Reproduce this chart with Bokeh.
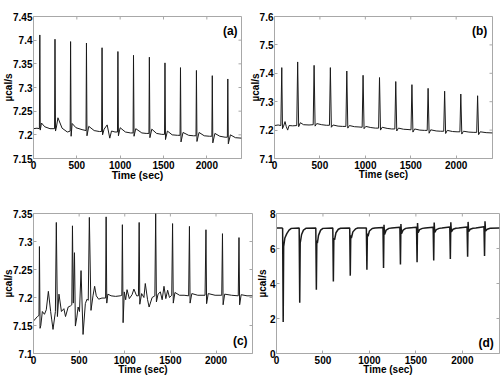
import math
from bokeh.plotting import figure
from bokeh.models import Range1d, FixedTicker, Label
from bokeh.layouts import row, column
from bokeh.embed import file_html
from bokeh.resources import INLINE

# ---------------- data ----------------
x_ticks = [0, 500, 1000, 1500, 2000]
x_tick_labels = ["0", "500", "1000", "1500", "2000"]
x_max = 2400

a_yticks = [7.15, 7.2, 7.25, 7.3, 7.35, 7.4, 7.45]
a_ylabels = ["7.15", "7.2", "7.25", "7.3", "7.35", "7.4", "7.45"]
b_yticks = [7.1, 7.2, 7.3, 7.4, 7.5, 7.6]
b_ylabels = ["7.1", "7.2", "7.3", "7.4", "7.5", "7.6"]
c_yticks = [7.1, 7.15, 7.2, 7.25, 7.3, 7.35]
c_ylabels = ["7.1", "7.15", "7.2", "7.25", "7.3", "7.35"]
d_yticks = [0, 2, 4, 6, 8]
d_ylabels = ["0", "2", "4", "6", "8"]

a_time = [0, 40, 68, 73, 78, 92,
          130, 190, 243, 248, 254, 262,
          282, 330, 390, 410, 423, 428,
          434, 446, 490, 560, 606, 611,
          617, 638, 700, 760, 786, 791,
          797, 815, 850, 880, 900, 940,
          969, 974, 980, 1000, 1060, 1120,
          1149, 1154, 1160, 1180, 1250, 1300,
          1332, 1337, 1343, 1365, 1420, 1480,
          1512, 1517, 1523, 1545, 1600, 1660,
          1691, 1696, 1702, 1725, 1790, 1845,
          1875, 1880, 1886, 1910, 1970, 2030,
          2058, 2063, 2069, 2093, 2150, 2210,
          2237, 2242, 2248, 2272, 2330, 2400]
a_value = [7.213, 7.214, 7.213, 7.411, 7.210, 7.225,
           7.217, 7.213, 7.213, 7.402, 7.208, 7.214,
           7.236, 7.214, 7.206, 7.207, 7.208, 7.397,
           7.197, 7.224, 7.215, 7.211, 7.209, 7.394,
           7.198, 7.218, 7.209, 7.207, 7.207, 7.384,
           7.200, 7.212, 7.221, 7.193, 7.208, 7.206,
           7.206, 7.376, 7.198, 7.215, 7.206, 7.204,
           7.204, 7.368, 7.197, 7.213, 7.204, 7.203,
           7.203, 7.364, 7.194, 7.212, 7.203, 7.201,
           7.201, 7.352, 7.190, 7.208, 7.200, 7.199,
           7.199, 7.342, 7.185, 7.205, 7.199, 7.198,
           7.198, 7.336, 7.186, 7.205, 7.198, 7.197,
           7.197, 7.325, 7.183, 7.203, 7.197, 7.195,
           7.195, 7.318, 7.181, 7.200, 7.194, 7.193]

b_time = [0, 40, 70, 80, 88, 100,
          116, 130, 145, 160, 200, 245,
          255, 266, 285, 320, 380, 426,
          436, 447, 465, 520, 570, 605,
          615, 626, 645, 700, 750, 786,
          796, 807, 825, 880, 930, 965,
          975, 986, 1005, 1060, 1110, 1146,
          1156, 1167, 1185, 1240, 1290, 1325,
          1335, 1346, 1365, 1420, 1470, 1503,
          1513, 1524, 1543, 1600, 1650, 1681,
          1691, 1702, 1720, 1780, 1830, 1863,
          1873, 1884, 1902, 1960, 2010, 2041,
          2051, 2062, 2080, 2140, 2195, 2226,
          2236, 2247, 2265, 2330, 2400]
b_value = [7.216, 7.218, 7.216, 7.420, 7.205, 7.214,
           7.230, 7.212, 7.200, 7.216, 7.215, 7.216,
           7.440, 7.212, 7.226, 7.219, 7.218, 7.219,
           7.428, 7.214, 7.223, 7.219, 7.217, 7.217,
           7.420, 7.210, 7.218, 7.214, 7.213, 7.213,
           7.408, 7.207, 7.216, 7.212, 7.211, 7.210,
           7.393, 7.205, 7.213, 7.209, 7.207, 7.207,
           7.385, 7.200, 7.210, 7.206, 7.204, 7.204,
           7.371, 7.197, 7.207, 7.203, 7.202, 7.201,
           7.360, 7.193, 7.204, 7.200, 7.199, 7.199,
           7.347, 7.189, 7.201, 7.197, 7.196, 7.196,
           7.337, 7.188, 7.199, 7.195, 7.194, 7.194,
           7.327, 7.186, 7.196, 7.193, 7.192, 7.192,
           7.321, 7.184, 7.194, 7.191, 7.190]

c_time = [0, 43, 60, 65, 72, 80,
          97, 120, 140, 163, 188, 200,
          214, 240, 250, 262, 279, 306,
          333, 351, 380, 405, 420, 427,
          436, 449, 459, 475, 489, 504,
          521, 543, 568, 586, 600, 612,
          630, 652, 670, 688, 714, 750,
          790, 796, 803, 815, 850, 900,
          950, 968, 974, 982, 995, 1010,
          1025, 1050, 1080, 1100, 1130, 1150,
          1158, 1165, 1185, 1210, 1225, 1250,
          1267, 1300, 1330, 1339, 1347, 1365,
          1390, 1410, 1430, 1450, 1470, 1490,
          1515, 1524, 1532, 1550, 1600, 1650,
          1700, 1709, 1716, 1735, 1800, 1880,
          1890, 1897, 1915, 1990, 2063, 2071,
          2078, 2095, 2170, 2244, 2252, 2259,
          2276, 2340, 2400]
c_value = [7.158, 7.166, 7.168, 7.291, 7.145, 7.150,
           7.175, 7.170, 7.178, 7.211, 7.175, 7.160,
           7.143, 7.175, 7.334, 7.166, 7.206, 7.175,
           7.180, 7.166, 7.183, 7.185, 7.187, 7.328,
           7.190, 7.280, 7.149, 7.165, 7.183, 7.175,
           7.248, 7.134, 7.189, 7.197, 7.195, 7.343,
           7.177, 7.203, 7.220, 7.203, 7.197, 7.199,
           7.199, 7.344, 7.190, 7.206, 7.203, 7.202,
           7.203, 7.204, 7.330, 7.155, 7.210, 7.196,
           7.214, 7.198, 7.205, 7.215, 7.203, 7.203,
           7.334, 7.188, 7.207, 7.200, 7.225, 7.196,
           7.183, 7.200, 7.203, 7.350, 7.192, 7.206,
           7.210, 7.196, 7.220, 7.198, 7.213, 7.200,
           7.204, 7.332, 7.190, 7.209, 7.204, 7.204,
           7.203, 7.327, 7.190, 7.207, 7.204, 7.204,
           7.321, 7.189, 7.207, 7.204, 7.204, 7.314,
           7.187, 7.206, 7.204, 7.203, 7.307, 7.187,
           7.205, 7.203, 7.203]

d_time = [0, 60, 66, 72, 77, 90,
          111, 135, 160, 244, 250, 255,
          270, 290, 320, 423, 429, 434,
          440, 452, 475, 500, 606, 612,
          617, 625, 640, 665, 690, 788,
          794, 799, 806, 822, 850, 875,
          967, 973, 978, 985, 1000, 1030,
          1060, 1146, 1152, 1157, 1163, 1180,
          1210, 1240, 1328, 1334, 1339, 1345,
          1362, 1390, 1420, 1507, 1513, 1518,
          1524, 1540, 1570, 1600, 1686, 1692,
          1697, 1703, 1720, 1750, 1780, 1865,
          1871, 1876, 1882, 1900, 1930, 1960,
          2051, 2057, 2062, 2068, 2085, 2115,
          2145, 2233, 2239, 2244, 2250, 2268,
          2300, 2400]
d_value = [7.17, 7.17, 7.15, 1.80, 6.10, 6.60,
           6.85, 7.05, 7.15, 7.17, 2.90, 6.30,
           6.80, 7.05, 7.16, 7.17, 3.64, 6.45,
           6.30, 6.75, 7.05, 7.15, 7.17, 4.11,
           6.60, 6.50, 6.90, 7.10, 7.16, 7.17,
           4.45, 6.75, 6.60, 6.95, 7.12, 7.17,
           7.17, 4.78, 6.85, 6.70, 7.00, 7.14,
           7.17, 7.20, 4.89, 7.35, 6.80, 7.05,
           7.15, 7.17, 7.22, 5.08, 7.40, 6.85,
           7.05, 7.15, 7.17, 7.22, 5.21, 7.45,
           6.90, 7.08, 7.15, 7.17, 7.22, 5.31,
           7.48, 6.92, 7.08, 7.15, 7.17, 7.23,
           5.40, 7.50, 6.95, 7.10, 7.16, 7.17,
           7.23, 5.53, 7.52, 6.97, 7.10, 7.16,
           7.17, 7.24, 5.57, 7.55, 7.00, 7.10,
           7.16, 7.17]

x_title = "Time (sec)"
y_title = "\u00b5cal/s"

FRAME = "#a8a8a8"
FONT = "Liberation Sans"


def panel(w, h, bl, br, bt, bb, yr, yt, yl, xs, ys, tag, tag_x, tag_y, lw,
          xlab_size, y_standoff):
    p = figure(width=w, height=h, output_backend="svg", toolbar_location=None,
               x_range=Range1d(0, x_max), y_range=Range1d(*yr),
               min_border_left=bl, min_border_right=br,
               min_border_top=bt, min_border_bottom=bb)
    p.background_fill_color = "white"
    p.border_fill_color = "white"
    p.outline_line_color = FRAME
    p.grid.visible = False
    p.line(xs, ys, line_color="#1a1a1a", line_width=lw)

    for ax in (p.xaxis[0], p.yaxis[0]):
        ax.axis_line_color = FRAME
        ax.major_tick_line_color = FRAME
        ax.major_tick_in = 3
        ax.major_tick_out = 0
        ax.minor_tick_line_color = None
        ax.major_label_text_font = FONT
        ax.major_label_text_font_style = "bold"
        ax.major_label_text_font_size = "10px"
        ax.major_label_text_color = "black"
        ax.axis_label_text_font = FONT
        ax.axis_label_text_font_style = "bold"
        ax.axis_label_text_color = "black"

    p.xaxis[0].ticker = FixedTicker(ticks=x_ticks)
    p.xaxis[0].major_label_overrides = dict(zip(x_ticks, x_tick_labels))
    p.xaxis[0].major_label_standoff = 2
    p.xaxis[0].axis_label = x_title
    p.xaxis[0].axis_label_text_font_size = xlab_size
    p.xaxis[0].axis_label_standoff = -3
    p.yaxis[0].ticker = FixedTicker(ticks=yt)
    p.yaxis[0].major_label_overrides = dict(zip(yt, yl))
    p.yaxis[0].major_label_standoff = 1
    p.yaxis[0].axis_label = y_title
    p.yaxis[0].axis_label_text_font_size = "10px"
    p.yaxis[0].axis_label_standoff = y_standoff

    # inward tick marks on the top and right edges of the box
    p.ray(x=x_ticks, y=[yr[1]] * len(x_ticks), length=3, length_units="screen",
          angle=-math.pi / 2, line_color=FRAME, line_width=1)
    p.ray(x=[x_max] * len(yt), y=yt, length=3, length_units="screen",
          angle=math.pi, line_color=FRAME, line_width=1)

    p.add_layout(Label(x=tag_x, y=tag_y, text=tag, text_align="right",
                       text_baseline="middle", text_font=FONT,
                       text_font_style="bold", text_font_size="12px",
                       text_color="black"))
    return p


pa = panel(246, 193, 30, 5, 10, 29, (7.15, 7.45), a_yticks, a_ylabels,
           a_time, a_value, "(a)", 2355, 7.42, 1, "10.5px", -4)
pb = panel(257, 193, 27, 11, 16, 35, (7.1, 7.6), b_yticks, b_ylabels,
           b_time, b_value, "(b)", 2342, 7.549, 1, "10px", -4)
pc = panel(253, 192, 29, 1, 18, 28, (7.1, 7.35), c_yticks, c_ylabels,
           c_time, c_value, "(c)", 2346, 7.123, 1, "10px", -4)
pd = panel(250, 192, 23, 4, 20, 32, (0, 8), d_yticks, d_ylabels,
           d_time, d_value, "(d)", 2339, 0.62, 1.5, "10px", -1)

layout = column(row(pa, pb), row(pc, pd))
open("out.html", "w").write(file_html(layout, INLINE))
